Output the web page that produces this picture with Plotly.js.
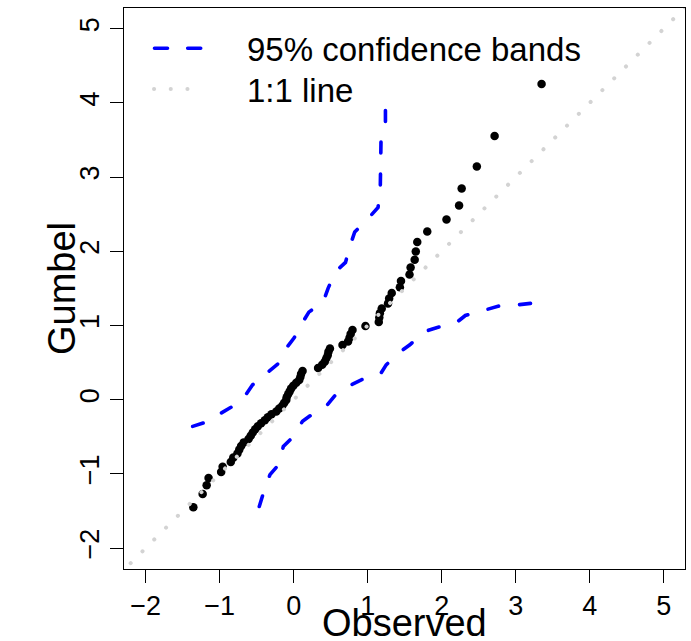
<!DOCTYPE html>
<html><head><meta charset="utf-8">
<script src="https://cdn.plot.ly/plotly-3.0.1.min.js"></script>
<style>
html,body{margin:0;padding:0;background:#fff;}
#chart{width:691px;height:641px;}
.scatterlayer .js-line, .shapelayer path {stroke-linecap: round !important;}
</style></head><body><div id="chart"></div>
<script>
// Theoretical Gumbel quantiles (y) and observed values (x)
const gumbelY = [-1.4499, -1.2725, -1.1519, -1.0566, -0.9758, -0.9046, -0.8402, -0.7808, -0.7254, -0.6730,
  -0.6232, -0.5754, -0.5293, -0.4847, -0.4413, -0.3989, -0.3574, -0.3166, -0.2764, -0.2367,
  -0.1974, -0.1584, -0.1197, -0.0813, -0.0429, -0.0046, 0.0337, 0.0720, 0.1105, 0.1491,
  0.1879, 0.2269, 0.2663, 0.3061, 0.3463, 0.3869, 0.4281, 0.4699, 0.5123, 0.5555,
  0.5995, 0.6444, 0.6902, 0.7371, 0.7852, 0.8346, 0.8854, 0.9378, 0.9919, 1.0479,
  1.1061, 1.1665, 1.2296, 1.2957, 1.3651, 1.4383, 1.5158, 1.5983, 1.6867, 1.7818,
  1.8852, 1.9984, 2.1240, 2.2653, 2.4271, 2.6168, 2.8474, 3.1427, 3.5553, 4.2559];
const observedX = [-1.356, -1.23, -1.176, -1.15, -0.98, -0.96, -0.85, -0.816, -0.76, -0.735,
  -0.71, -0.675, -0.61, -0.58, -0.553, -0.52, -0.485, -0.44, -0.39, -0.35,
  -0.30, -0.235, -0.195, -0.155, -0.128, -0.10, -0.095, -0.075, -0.055, -0.035,
  -0.005, 0.035, 0.075, 0.09, 0.10, 0.12, 0.33, 0.385, 0.42, 0.44,
  0.46, 0.47, 0.49, 0.66, 0.735, 0.755, 0.77, 0.795, 0.97, 1.15,
  1.157, 1.165, 1.19, 1.275, 1.29, 1.325, 1.435, 1.45, 1.565, 1.58,
  1.635, 1.65, 1.67, 1.805, 2.065, 2.235, 2.27, 2.475, 2.715, 3.35];

// 95% confidence bands
const upperX = [-1.365, -1.21, -0.98, -0.825, -0.645, -0.555, -0.35, -0.205, -0.095, 0.004, 0.12, 0.205,
  0.40, 0.465, 0.56, 0.70, 0.76, 0.825, 1.005, 1.14, 1.17, 1.17, 1.18, 1.18, 1.24, 1.24];
const upperY = [-0.36, -0.31, -0.18, -0.09, 0.07, 0.20, 0.37, 0.49, 0.70, 0.83, 1.04, 1.18,
  1.32, 1.50, 1.72, 1.85, 2.07, 2.26, 2.44, 2.59, 2.84, 3.02, 3.29, 3.49, 3.74, 3.92];
const lowerX = [-0.465, -0.41, -0.32, -0.195, -0.14, -0.007, 0.12, 0.245, 0.455, 0.57, 0.76, 0.92,
  1.175, 1.25, 1.445, 1.57, 1.76, 1.93, 2.20, 2.32, 2.59, 2.76, 3.04, 3.22];
const lowerY = [-1.44, -1.26, -1.01, -0.865, -0.63, -0.50, -0.29, -0.20, -0.07, 0.07, 0.19, 0.27,
  0.35, 0.47, 0.65, 0.74, 0.915, 0.97, 1.04, 1.135, 1.21, 1.26, 1.28, 1.30];

// 1:1 reference line
const oneToOne = [-3, 6];

const xTickVals = [-2, -1, 0, 1, 2, 3, 4, 5];
const xTickText = ['\u22122', '\u22121', '0', '1', '2', '3', '4', '5'];
const yTickVals = [-2, -1, 0, 1, 2, 3, 4, 5];
const yTickText = ['\u22122', '\u22121', '0', '1', '2', '3', '4', '5'];
const legendLabels = ['95% confidence bands', '1:1 line'];

const FONT = 'Liberation Sans, Arial, Helvetica, sans-serif';
const BLUE = '#0000ff';
const GRAY = '#d3d3d3';
const bandDash = '11px,21px';
const legendDash = '13px,20.2px';
const dotDash = '0.1px,16.6px';

const traces = [
  {x: observedX, y: gumbelY, type: 'scatter', mode: 'markers',
   marker: {color: '#000000', size: 8.5, line: {width: 0}}, showlegend: false},
  {x: upperX, y: upperY, type: 'scatter', mode: 'lines',
   line: {color: BLUE, width: 3.6, dash: bandDash}, showlegend: false},
  {x: lowerX, y: lowerY, type: 'scatter', mode: 'lines',
   line: {color: BLUE, width: 3.6, dash: bandDash}, showlegend: false},
  {x: oneToOne, y: oneToOne, type: 'scatter', mode: 'lines',
   line: {color: GRAY, width: 4, dash: dotDash}, showlegend: false}
];

const axisCommon = {
  showline: true, mirror: true, linecolor: '#000', linewidth: 1,
  ticks: 'outside', ticklen: 13, tickwidth: 1, tickcolor: '#000',
  showgrid: false, zeroline: false,
  tickfont: {family: FONT, size: 27, color: '#000'}
};

const layout = {
  width: 691, height: 641,
  margin: {l: 124, r: 6, t: 8, b: 72},
  paper_bgcolor: '#fff', plot_bgcolor: '#fff',
  showlegend: false,
  xaxis: Object.assign({}, axisCommon, {
    range: [-2.293, 5.288], tickmode: 'array', tickvals: xTickVals, ticktext: xTickText
  }),
  yaxis: Object.assign({}, axisCommon, {
    range: [-2.282, 5.279], tickmode: 'array', tickvals: yTickVals, ticktext: yTickText,
    tickangle: -90
  }),
  shapes: [
    {type: 'line', xref: 'paper', yref: 'paper', x0: 0.05437, x1: 0.13725, y0: 0.92816, y1: 0.92816,
     line: {color: BLUE, width: 3.6, dash: legendDash}},
    {type: 'line', xref: 'paper', yref: 'paper', x0: 0.05348, x1: 0.14278, y0: 0.85561, y1: 0.85561,
     line: {color: GRAY, width: 4, dash: dotDash}}
  ],
  annotations: [
    {text: legendLabels[0], xref: 'paper', yref: 'paper', x: 0.2157, y: 0.926,
     xanchor: 'left', yanchor: 'middle', showarrow: false,
     font: {family: FONT, size: 33, color: '#000'}},
    {text: legendLabels[1], xref: 'paper', yref: 'paper', x: 0.2157, y: 0.853,
     xanchor: 'left', yanchor: 'middle', showarrow: false,
     font: {family: FONT, size: 33, color: '#000'}},
    {text: 'Observed', xref: 'paper', yref: 'paper', x: 0.5, y: -0.137,
     xanchor: 'center', yanchor: 'bottom', showarrow: false,
     font: {family: FONT, size: 38, color: '#000'}},
    {text: 'Gumbel', xref: 'paper', yref: 'paper', x: -0.1114, y: 0.5,
     xanchor: 'center', yanchor: 'middle', textangle: -90, showarrow: false,
     font: {family: FONT, size: 38, color: '#000'}}
  ]
};

Plotly.newPlot('chart', traces, layout, {displayModeBar: false, staticPlot: true});
</script></body></html>
